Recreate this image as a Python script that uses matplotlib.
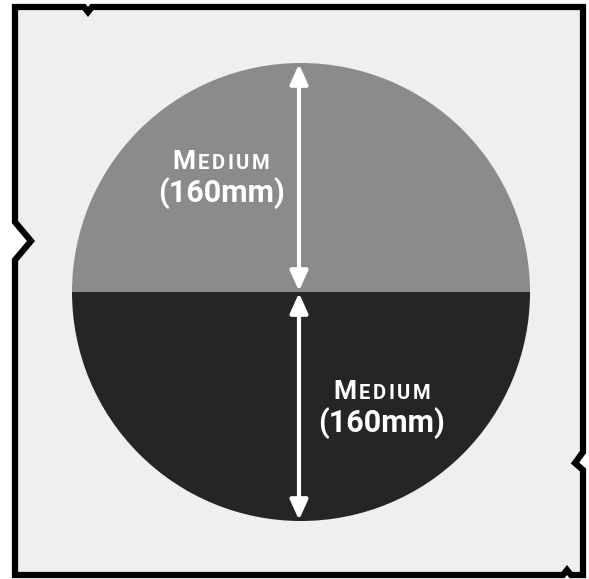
import matplotlib
matplotlib.use("Agg")
import matplotlib.pyplot as plt
from matplotlib.patches import Polygon

# ---- data ----
labels_big = ["M", "M"]
labels_small = ["EDIUM", "EDIUM"]
sizes_text = ["(160mm)", "(160mm)"]
values = [160, 160]
colors = ["#8b8b8b", "#252525"]

W, H = 589, 579
fig = plt.figure(figsize=(W / 100, H / 100), dpi=100)
fig.patch.set_facecolor("white")
ax = fig.add_axes([0, 0, 1, 1])

# frame (pixel coords, y downward)
frame_pts = [(15, 7), (84, 7), (88, 12), (92, 7), (583, 7), (583, 452),
             (575, 463), (583, 470), (583, 575), (571, 575), (567, 570),
             (563, 575), (15, 575), (15, 260), (31, 241), (15, 222)]
ax.add_patch(Polygon(frame_pts, closed=True, facecolor="#efefef",
                     edgecolor="black", lw=4.5, joinstyle="miter", zorder=1))

cx, cy, r = 301, 292, 229
ax.pie(values, colors=colors, startangle=180, counterclock=True,
       center=(cx, cy), radius=r, wedgeprops=dict(lw=0),
       frame=True)

ax.set_xlim(0, W)
ax.set_ylim(H, 0)
ax.set_aspect("auto")
ax.axis("off")

# arrows
ax_x = 299
akw = dict(arrowstyle="<|-|>,head_length=0.6,head_width=0.27",
           color="white", lw=3.0, mutation_scale=20,
           shrinkA=0, shrinkB=0)
ax.annotate("", xy=(ax_x, cy - r + 1), xytext=(ax_x, cy - 1),
            arrowprops=akw, zorder=5)
ax.annotate("", xy=(ax_x, cy + 1), xytext=(ax_x, cy + r - 1),
            arrowprops=akw, zorder=5)

fam = "Roboto"
renderer = fig.canvas.get_renderer()


def smallcaps(xc, yb, big, small, spacing=2.5):
    items = [(big, 19)] + [(ch, 14.5) for ch in small]
    texts = []
    widths = []
    for ch, fs in items:
        t = ax.text(0, yb, ch, fontsize=fs, fontweight="bold", family=fam,
                    color="white", ha="left", va="baseline", zorder=6)
        texts.append(t)
        widths.append(t.get_window_extent(renderer).width)
    total = sum(widths) + spacing * (len(items) - 1)
    x = xc - total / 2
    for t, w in zip(texts, widths):
        t.set_x(x)
        x += w + spacing


label_pos = [(221, 169, 202), (382, 399, 432)]
for i, (xc, yb1, yb2) in enumerate(label_pos):
    smallcaps(xc, yb1, labels_big[i], labels_small[i])
    ax.text(xc, yb2, sizes_text[i], fontsize=22, fontweight="bold",
            family=fam, color="white", ha="center", va="baseline", zorder=6)

fig.savefig("out.png", dpi=100, facecolor="white")
